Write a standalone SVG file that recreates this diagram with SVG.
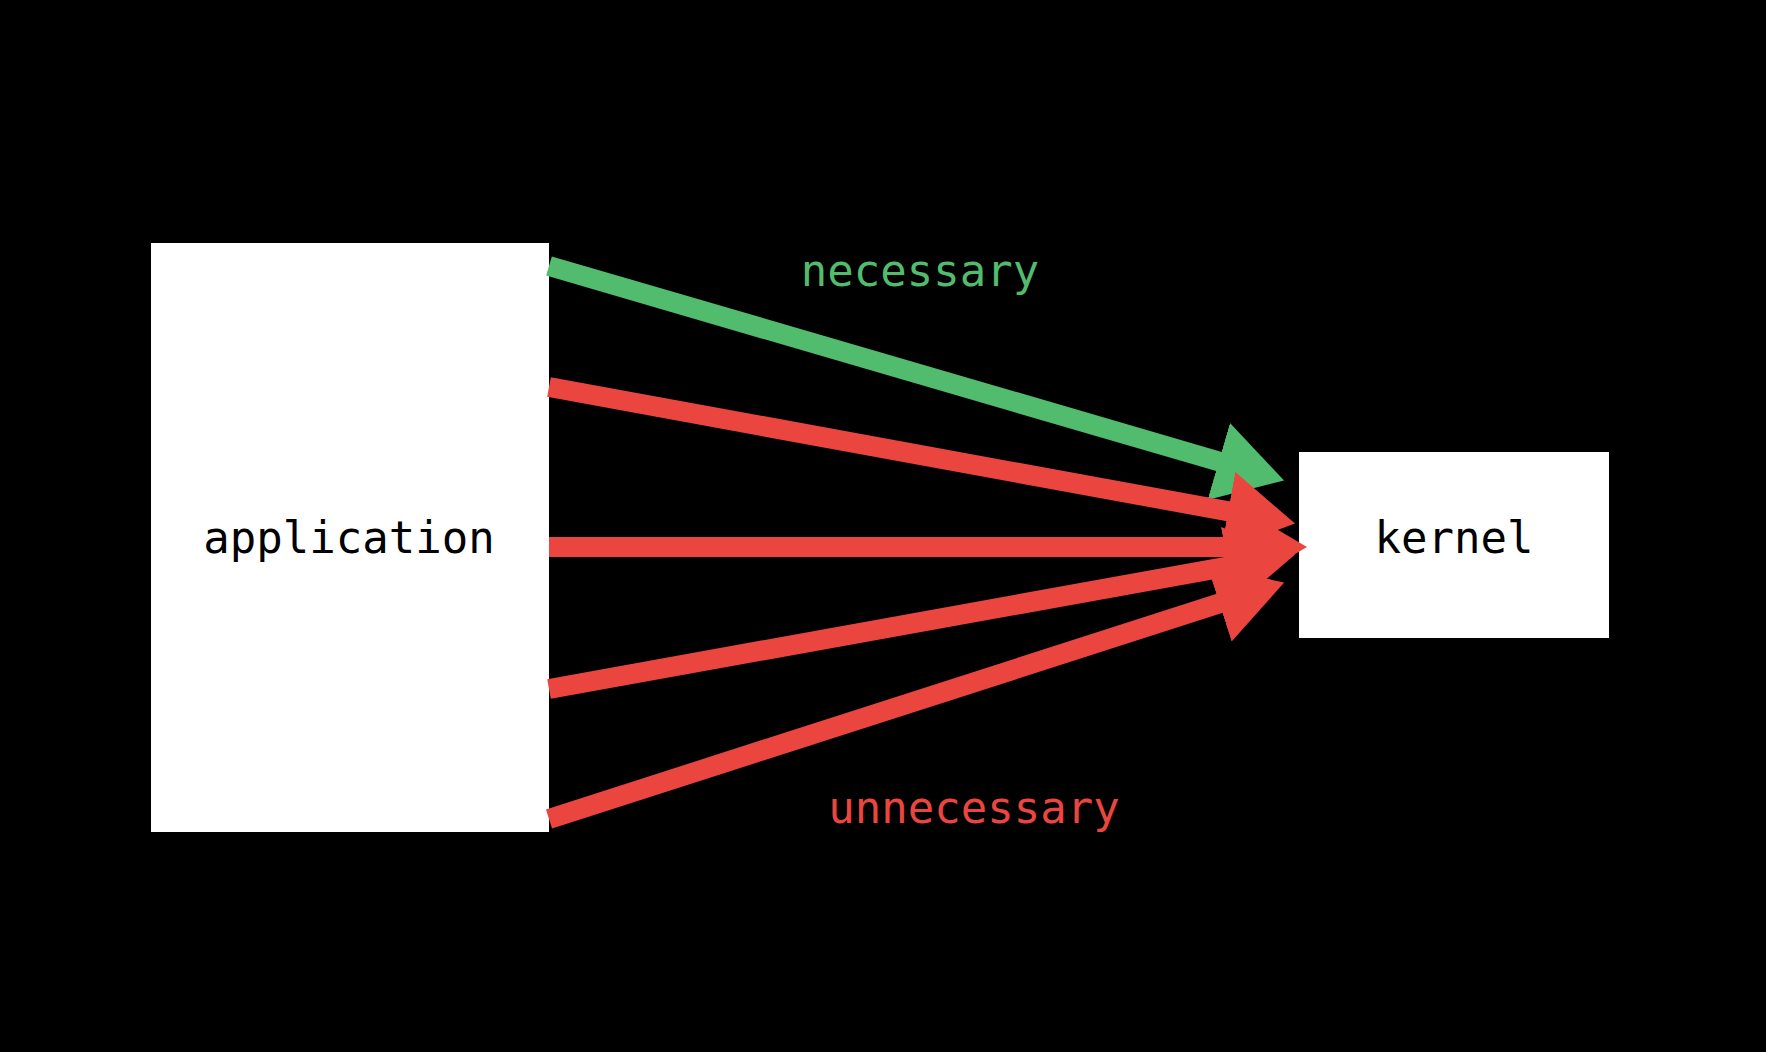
<svg xmlns="http://www.w3.org/2000/svg" width="1766" height="1052" viewBox="0 0 1766 1052">
<style>
.box{fill:#fff}
.lbl{font-family:"DejaVu Sans Mono","Liberation Mono",monospace;font-size:44px;text-anchor:middle}
.g{stroke:#52bc6e;stroke-width:20;fill:none}
.r{stroke:#ea463f;stroke-width:20;fill:none}
</style>
<defs>
<marker id="ag" viewBox="0 -2 3.4 4" markerWidth="3.4" markerHeight="4" refX="0.1" refY="0" orient="auto" markerUnits="strokeWidth"><path d="M0,-2L3.4,0L0,2z" fill="#52bc6e"/></marker>
<marker id="ar" viewBox="0 -2 3.4 4" markerWidth="3.4" markerHeight="4" refX="0.1" refY="0" orient="auto" markerUnits="strokeWidth"><path d="M0,-2L3.4,0L0,2z" fill="#ea463f"/></marker>
</defs>
<rect width="1766" height="1052" fill="#000"/>
<g id="application"><rect class="box" x="151" y="243" width="398" height="589"/><text class="lbl" x="349" y="553">application</text></g>
<g id="kernel"><rect class="box" x="1299" y="452" width="310" height="186"/><text class="lbl" x="1454" y="553">kernel</text></g>
<g id="connectors">
<line class="g" x1="549" y1="266" x2="1220.7" y2="462" marker-end="url(#ag)"/>
<line class="r" x1="549" y1="387" x2="1230.1" y2="511.7" marker-end="url(#ar)"/>
<line class="r" x1="549" y1="547" x2="1241" y2="547" marker-end="url(#ar)"/>
<line class="r" x1="549" y1="689" x2="1230.1" y2="566.1" marker-end="url(#ar)"/>
<line class="r" x1="549" y1="819" x2="1221.3" y2="602.8" marker-end="url(#ar)"/>
</g>
<text class="lbl" x="920" y="286" fill="#52bc6e">necessary</text>
<text class="lbl" x="974" y="823" fill="#ea463f">unnecessary</text>
</svg>
